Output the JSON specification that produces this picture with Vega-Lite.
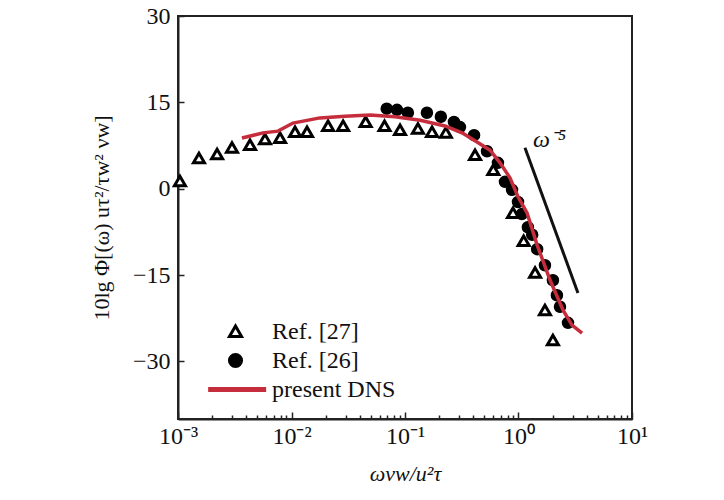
{
  "$schema": "https://vega.github.io/schema/vega-lite/v6.json",
  "width": 454,
  "height": 403,
  "autosize": "none",
  "padding": {"left": 178, "top": 16, "right": 92, "bottom": 81},
  "config": {
    "font": "Liberation Serif",
    "view": {"stroke": "#222", "strokeWidth": 2},
    "axis": {
      "grid": false,
      "domainColor": "#222",
      "domainWidth": 2,
      "tickColor": "#222",
      "tickWidth": 1.5,
      "labelFont": "Liberation Serif",
      "labelFontSize": 24,
      "labelColor": "#111",
      "titleFont": "Liberation Serif",
      "titleFontSize": 22,
      "titleFontWeight": "normal",
      "titleColor": "#111"
    },
    "legend": {
      "orient": "none",
      "legendX": 45,
      "legendY": 303,
      "padding": 0,
      "rowPadding": 4,
      "labelFont": "Liberation Serif",
      "labelFontSize": 24,
      "labelColor": "#111",
      "labelOffset": 24,
      "symbolSize": 484,
      "symbolStrokeWidth": 3
    }
  },
  "datasets": {
    "ref27": [
      {"s": "Ref. [27]", "x": 0.00104, "y": 1.3},
      {"s": "Ref. [27]", "x": 0.00153, "y": 5.3},
      {"s": "Ref. [27]", "x": 0.00221, "y": 6.0},
      {"s": "Ref. [27]", "x": 0.00299, "y": 7.1},
      {"s": "Ref. [27]", "x": 0.00431, "y": 7.6},
      {"s": "Ref. [27]", "x": 0.00584, "y": 8.6},
      {"s": "Ref. [27]", "x": 0.00793, "y": 8.8},
      {"s": "Ref. [27]", "x": 0.01074, "y": 9.85},
      {"s": "Ref. [27]", "x": 0.0137, "y": 9.85},
      {"s": "Ref. [27]", "x": 0.021, "y": 10.9},
      {"s": "Ref. [27]", "x": 0.0285, "y": 10.9},
      {"s": "Ref. [27]", "x": 0.045, "y": 11.6},
      {"s": "Ref. [27]", "x": 0.066, "y": 10.9},
      {"s": "Ref. [27]", "x": 0.0904, "y": 10.2},
      {"s": "Ref. [27]", "x": 0.13, "y": 10.4},
      {"s": "Ref. [27]", "x": 0.173, "y": 9.85},
      {"s": "Ref. [27]", "x": 0.229, "y": 9.7},
      {"s": "Ref. [27]", "x": 0.414, "y": 5.85},
      {"s": "Ref. [27]", "x": 0.6, "y": 3.25},
      {"s": "Ref. [27]", "x": 0.895, "y": -4.2},
      {"s": "Ref. [27]", "x": 1.11, "y": -9.1},
      {"s": "Ref. [27]", "x": 1.4, "y": -14.6},
      {"s": "Ref. [27]", "x": 1.71, "y": -21.1},
      {"s": "Ref. [27]", "x": 2.01, "y": -26.3}
    ],
    "ref26": [
      {"s": "Ref. [26]", "x": 0.069, "y": 13.9},
      {"s": "Ref. [26]", "x": 0.085, "y": 13.7},
      {"s": "Ref. [26]", "x": 0.106, "y": 13.2},
      {"s": "Ref. [26]", "x": 0.156, "y": 13.2},
      {"s": "Ref. [26]", "x": 0.207, "y": 12.5},
      {"s": "Ref. [26]", "x": 0.27, "y": 11.6},
      {"s": "Ref. [26]", "x": 0.305, "y": 10.7},
      {"s": "Ref. [26]", "x": 0.406, "y": 9.3},
      {"s": "Ref. [26]", "x": 0.528, "y": 6.5},
      {"s": "Ref. [26]", "x": 0.659, "y": 4.5},
      {"s": "Ref. [26]", "x": 0.76, "y": 1.2},
      {"s": "Ref. [26]", "x": 0.877, "y": -0.2},
      {"s": "Ref. [26]", "x": 0.99, "y": -2.3},
      {"s": "Ref. [26]", "x": 1.07, "y": -4.4},
      {"s": "Ref. [26]", "x": 1.21, "y": -6.7},
      {"s": "Ref. [26]", "x": 1.32, "y": -8.0},
      {"s": "Ref. [26]", "x": 1.46, "y": -10.5},
      {"s": "Ref. [26]", "x": 1.71, "y": -13.3},
      {"s": "Ref. [26]", "x": 2.01, "y": -15.9},
      {"s": "Ref. [26]", "x": 2.18, "y": -18.5},
      {"s": "Ref. [26]", "x": 2.32, "y": -20.5},
      {"s": "Ref. [26]", "x": 2.73, "y": -23.3}
    ],
    "dns": [
      {"s": "present DNS", "x": 0.00366, "y": 8.8},
      {"s": "present DNS", "x": 0.00561, "y": 9.7},
      {"s": "present DNS", "x": 0.0076, "y": 10.0},
      {"s": "present DNS", "x": 0.0103, "y": 11.4},
      {"s": "present DNS", "x": 0.0178, "y": 12.3},
      {"s": "present DNS", "x": 0.0296, "y": 12.6},
      {"s": "present DNS", "x": 0.0492, "y": 12.8},
      {"s": "present DNS", "x": 0.0817, "y": 12.5},
      {"s": "present DNS", "x": 0.136, "y": 11.9},
      {"s": "present DNS", "x": 0.225, "y": 10.9},
      {"s": "present DNS", "x": 0.318, "y": 9.7},
      {"s": "present DNS", "x": 0.431, "y": 8.1},
      {"s": "present DNS", "x": 0.561, "y": 6.7},
      {"s": "present DNS", "x": 0.687, "y": 4.5},
      {"s": "present DNS", "x": 0.841, "y": 1.9},
      {"s": "present DNS", "x": 0.99, "y": -1.4},
      {"s": "present DNS", "x": 1.19, "y": -4.2},
      {"s": "present DNS", "x": 1.46, "y": -9.8},
      {"s": "present DNS", "x": 1.9, "y": -15.9},
      {"s": "present DNS", "x": 2.47, "y": -21.1},
      {"s": "present DNS", "x": 2.96, "y": -23.7},
      {"s": "present DNS", "x": 3.63, "y": -25.1}
    ],
    "slope": [{"x": 1.14, "y": 7.1, "x2": 3.34, "y2": -18.1}],
    "note": [{"x": 1.34, "y": 7.25, "t": "ω⁻⁵"}]
  },
  "layer": [
    {
      "data": {"name": "ref27"},
      "mark": {"type": "point", "size": 400, "strokeWidth": 3, "opacity": 1},
      "encoding": {
        "x": {
          "field": "x", "type": "quantitative",
          "scale": {"type": "log", "domain": [0.001, 10], "nice": false},
          "axis": {
            "title": "ωvw/u²τ",
            "titleFontStyle": "italic",
            "titlePadding": 12,
            "values": [0.001, 0.002, 0.003, 0.004, 0.005, 0.006, 0.007, 0.008, 0.009, 0.01, 0.02, 0.03, 0.04, 0.05, 0.06, 0.07, 0.08, 0.09, 0.1, 0.2, 0.3, 0.4, 0.5, 0.6, 0.7, 0.8, 0.9, 1, 2, 3, 4, 5, 6, 7, 8, 9, 10],
            "labelExpr": "datum.value == 0.001 ? '10⁻³' : datum.value == 0.01 ? '10⁻²' : datum.value == 0.1 ? '10⁻¹' : datum.value == 1 ? '10⁰' : datum.value == 10 ? '10¹' : ''",
            "labelOverlap": false,
            "labelFlush": false,
            "labelPadding": 12,
            "tickSize": {"condition": {"test": "datum.value == 0.001 || datum.value == 0.01 || datum.value == 0.1 || datum.value == 1 || datum.value == 10", "value": -7}, "value": -4}
          }
        },
        "y": {
          "field": "y", "type": "quantitative",
          "scale": {"domain": [-40, 30], "nice": false, "zero": false},
          "axis": {
            "title": "10lg Φ[(ω) uτ²/τw² νw]",
            "titlePadding": 19,
            "values": [-30, -15, 0, 15, 30],
            "tickSize": -6,
            "labelPadding": 14
          }
        },
        "shape": {"field": "s", "type": "nominal", "scale": {"domain": ["Ref. [27]", "Ref. [26]", "present DNS"], "range": ["M0,-0.5L0.55,0.45L-0.55,0.45Z", "M-0.55,0A0.55,0.55 0 1,0 0.55,0A0.55,0.55 0 1,0 -0.55,0Z", "M-2.35,-0.09H2.65V0.09H-2.35Z"]}, "legend": {"title": null}},
        "fill": {"field": "s", "type": "nominal", "scale": {"domain": ["Ref. [27]", "Ref. [26]", "present DNS"], "range": ["white", "black", "#c62d3c"]}, "legend": {"title": null}},
        "stroke": {"field": "s", "type": "nominal", "scale": {"domain": ["Ref. [27]", "Ref. [26]", "present DNS"], "range": ["black", "black", "#c62d3c"]}, "legend": {"title": null}}
      }
    },
    {
      "data": {"name": "ref26"},
      "mark": {"type": "point", "size": 400, "strokeWidth": 1.5, "opacity": 1},
      "encoding": {
        "x": {"field": "x", "type": "quantitative"},
        "y": {"field": "y", "type": "quantitative"},
        "shape": {"field": "s", "type": "nominal", "legend": {"title": null}},
        "fill": {"field": "s", "type": "nominal", "legend": {"title": null}},
        "stroke": {"field": "s", "type": "nominal", "legend": {"title": null}}
      }
    },
    {
      "data": {"name": "dns"},
      "mark": {"type": "line", "strokeWidth": 3.5},
      "encoding": {
        "x": {"field": "x", "type": "quantitative"},
        "y": {"field": "y", "type": "quantitative"},
        "stroke": {"field": "s", "type": "nominal", "legend": {"title": null}}
      }
    },
    {
      "data": {"name": "slope"},
      "mark": {"type": "rule", "color": "#111", "strokeWidth": 3},
      "encoding": {
        "x": {"field": "x", "type": "quantitative"},
        "y": {"field": "y", "type": "quantitative"},
        "x2": {"field": "x2"},
        "y2": {"field": "y2"}
      }
    },
    {
      "data": {"name": "note"},
      "mark": {"type": "text", "align": "left", "baseline": "alphabetic", "fontSize": 24, "fontStyle": "italic", "font": "Liberation Serif", "color": "#111"},
      "encoding": {
        "x": {"field": "x", "type": "quantitative"},
        "y": {"field": "y", "type": "quantitative"},
        "text": {"field": "t"}
      }
    }
  ]
}
